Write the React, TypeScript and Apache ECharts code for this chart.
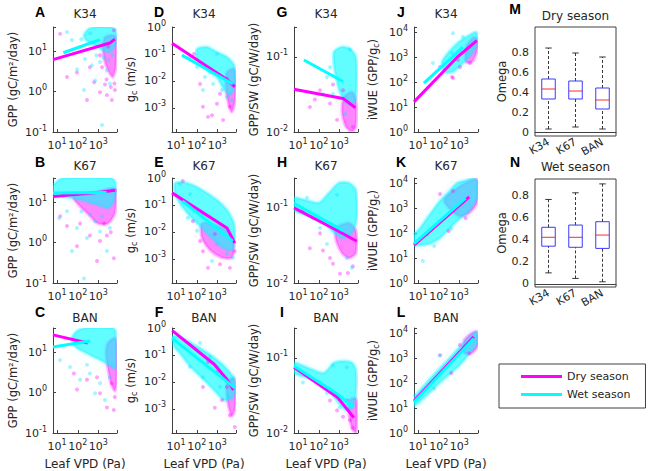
import React, { useEffect, useRef } from 'react';
import * as echarts from 'echarts';

type P = [number, number];

// ---------- Panel A : K34, GPP ----------
const A_dryFit: P[] = [[6.3, 6.2], [3600, 16], [6300, 20]];
const A_wetFit: P[] = [[20, 9.2], [1200, 19.5]];
const A_dryCore: P[] = [[2090, 22.5], [5000, 25.5], [7000, 22.5], [7000, 4], [5000, 2.3], [3250, 3.1], [2090, 5.4], [1670, 11.3]];
const A_wetCore: P[] = [[200, 25], [350, 36], [690, 40], [4050, 40], [7000, 33], [7000, 17], [5000, 11.5], [2900, 9.5], [1340, 11.5], [550, 15], [250, 19]];
const A_wetPts: P[] = [[30, 30], [52, 19], [130, 12.7], [225, 6.4], [490, 4.5], [1200, 5.4], [2600, 3.4], [690, 1.9], [200, 1.1], [3600, 1.6], [1500, 0.15], [92, 3.6], [150, 20], [400, 28], [800, 8], [1800, 7], [3000, 6], [5000, 8]];
const A_dryPts: P[] = [[14, 27], [92, 3.0], [620, 1.7], [1200, 0.97], [2600, 0.82], [4500, 0.62], [280, 0.62], [30, 2.3], [2090, 1.5], [6300, 1.1], [390, 4.0], [5600, 33], [1200, 8], [1500, 4], [2500, 2], [4000, 1.3], [6000, 1.6], [3000, 13]];

// ---------- Panel B : K67, GPP ----------
const B_dryFit: P[] = [[6.3, 14], [1500, 18], [6300, 20]];
const B_wetFit: P[] = [[6.3, 17], [2500, 17.5]];
const B_dryCore: P[] = [[59, 14], [550, 17], [5000, 22.5], [7000, 17], [6300, 5.4], [2900, 3.0], [950, 3.0], [350, 4.9], [115, 8.5]];
const B_wetCore: P[] = [[6.3, 25], [12, 35], [19, 40], [4050, 40], [6300, 33], [7000, 20], [5000, 9.5], [2900, 7.2], [1340, 8.2], [550, 9.5], [180, 11.2], [59, 12.7], [19, 14], [6.3, 14]];
const B_wetPts: P[] = [[12.5, 4.0], [30, 6.0], [92, 2.3], [280, 1.3], [1200, 1.9], [2600, 0.62], [200, 0.13], [690, 3.4], [3600, 2.3], [52, 0.62], [150, 6], [400, 5], [1500, 4.5]];
const B_dryPts: P[] = [[14, 4.5], [130, 3.0], [390, 1.5], [1200, 1.1], [92, 0.82], [2600, 1.5], [5600, 0.41], [860, 0.35], [30, 2.6], [1900, 3.0], [6500, 20], [4000, 1.8]];

// ---------- Panel C : BAN, GPP ----------
const C_dryFit: P[] = [[6.3, 27], [300, 17]];
const C_wetFit: P[] = [[6.3, 13.6], [400, 19]];
const C_dryCore: P[] = [[2900, 17], [6300, 22.5], [7600, 17], [7600, 1.7], [6300, 1.1], [4050, 1.7], [2900, 4.0], [2340, 9.5]];
const C_wetCore: P[] = [[52, 22.5], [92, 33.5], [225, 40], [5000, 40], [6800, 33.5], [6800, 4.0], [4050, 4.5], [1670, 6.0], [550, 7.9], [180, 10.6], [73, 14]];
const C_wetPts: P[] = [[42, 4.3], [130, 2.1], [390, 3.0], [1200, 1.7], [3600, 2.4], [690, 0.97], [2090, 0.66], [14, 6.4], [280, 4.9]];
const C_dryPts: P[] = [[92, 1.2], [280, 2.1], [1200, 0.97], [2600, 0.43], [5600, 0.37], [6300, 0.78], [860, 2.4], [65, 3.0], [4500, 1.7]];

// ---------- Panel D : K34, gc ----------
const D_dryFit: P[] = [[6.3, 0.25], [3000, 0.011], [7000, 0.006]];
const D_wetFit: P[] = [[19, 0.09], [5600, 0.0076]];
const D_dryCore: P[] = [[2900, 0.021], [6300, 0.028], [7600, 0.009], [7000, 0.0016], [5000, 0.0007], [3600, 0.0012], [2600, 0.0059]];
const D_wetCore: P[] = [[103, 0.152], [310, 0.18], [950, 0.118], [2900, 0.077], [6300, 0.039], [7500, 0.014], [6300, 0.005], [4050, 0.003], [2090, 0.005], [950, 0.014], [440, 0.021], [180, 0.039], [103, 0.065]];
const D_wetPts: P[] = [[47, 0.077], [103, 0.033], [250, 0.014], [620, 0.0077], [1670, 0.0046], [2900, 0.0025], [440, 0.021], [950, 0.1], [5000, 0.0019], [200, 0.0046]];
const D_dryPts: P[] = [[73, 0.1], [350, 0.00046], [550, 0.00053], [1900, 0.00035], [950, 0.0014], [200, 0.0011], [4050, 0.0011], [1340, 0.0033], [145, 0.0077], [2900, 0.012]];

// ---------- Panel E : K67, gc ----------
const E_dryFit: P[] = [[6.3, 0.28], [2900, 0.014], [7000, 0.0038]];
const E_wetFit: P[] = [[20, 0.14], [5600, 0.0045]];
const E_dryCore: P[] = [[180, 0.021], [950, 0.017], [4050, 0.0091], [6300, 0.0038], [5000, 0.0011], [1670, 0.0011], [440, 0.0021], [180, 0.0059]];
const E_wetCore: P[] = [[9, 0.65], [33, 0.65], [180, 0.36], [950, 0.152], [2900, 0.065], [6300, 0.021], [7000, 0.0059], [5000, 0.0021], [2090, 0.0025], [690, 0.005], [180, 0.014], [47, 0.039], [15, 0.118], [9, 0.28]];
const E_wetPts: P[] = [[15, 0.6], [47, 0.25], [200, 0.046], [103, 0.011], [950, 0.0035], [2900, 0.0015], [550, 0.00083], [5600, 0.0011], [37, 0.033]];
const E_dryPts: P[] = [[21, 0.77], [65, 0.025], [200, 0.0019], [350, 0.00046], [1340, 0.00063], [4050, 0.00046], [145, 0.0046], [7000, 0.0019], [750, 0.0083]];

// ---------- Panel F : BAN, gc ----------
const F_dryFit: P[] = [[6.5, 0.8], [700, 0.045], [3000, 0.012], [6000, 0.005]];
const F_wetFit: P[] = [[6.3, 0.42], [7000, 0.006]];
const F_dryCore: P[] = [[2900, 0.0091], [6300, 0.014], [7500, 0.0038], [7000, 0.00091], [5000, 0.00054], [3600, 0.0011], [2900, 0.003]];
const F_wetCore: P[] = [[6.3, 0.5], [19, 0.42], [103, 0.21], [550, 0.091], [2090, 0.039], [6300, 0.014], [7500, 0.005], [5000, 0.0025], [2090, 0.0021], [690, 0.005], [180, 0.014], [47, 0.039], [15, 0.118], [8, 0.21]];
const F_wetPts: P[] = [[145, 0.28], [440, 0.084], [47, 0.036], [200, 0.015], [1340, 0.0064], [3250, 0.0028], [950, 0.036], [5000, 0.012]];
const F_dryPts: P[] = [[350, 0.055], [950, 0.023], [2900, 0.0064], [750, 0.0011], [4050, 0.00058], [7000, 0.00021], [1670, 0.0021], [200, 0.0064]];

// ---------- Panel G : K34, GPP/SW ----------
const G_dryFit: P[] = [[6.3, 0.037], [1500, 0.028], [6000, 0.021]];
const G_wetFit: P[] = [[19, 0.091], [1500, 0.047]];
const G_dryCore: P[] = [[1670, 0.029], [4050, 0.034], [6300, 0.027], [6300, 0.0117], [4050, 0.0102], [2090, 0.0117], [1340, 0.0185]];
const G_wetCore: P[] = [[550, 0.117], [1340, 0.136], [3250, 0.128], [6300, 0.10], [7000, 0.054], [6300, 0.029], [4050, 0.023], [2090, 0.025], [1070, 0.034], [690, 0.054], [550, 0.078]];
const G_wetPts: P[] = [[250, 0.054], [490, 0.032], [1900, 0.0175], [350, 0.073], [3250, 0.125], [160, 0.032]];
const G_dryPts: P[] = [[37, 0.0215], [115, 0.036], [350, 0.024], [770, 0.0145], [490, 0.043], [4500, 0.0117], [1500, 0.036], [65, 0.027]];

// ---------- Panel H : K67, GPP/SW ----------
const H_dryFit: P[] = [[6.3, 0.10], [600, 0.052], [7000, 0.036]];
const H_wetFit: P[] = [[6.3, 0.115], [1500, 0.05]];
const H_dryCore: P[] = [[690, 0.054], [2900, 0.063], [6300, 0.050], [6300, 0.025], [2900, 0.0215], [1340, 0.025], [690, 0.037]];
const H_wetCore: P[] = [[6.3, 0.136], [19, 0.128], [103, 0.117], [310, 0.158], [950, 0.215], [2900, 0.215], [6300, 0.174], [7000, 0.073], [4050, 0.047], [1670, 0.040], [550, 0.047], [180, 0.063], [33, 0.078], [6.3, 0.094]];
const H_wetPts: P[] = [[27, 0.136], [115, 0.054], [250, 0.033], [2300, 0.0215], [770, 0.15], [52, 0.073], [4050, 0.016]];
const H_dryPts: P[] = [[37, 0.029], [160, 0.027], [490, 0.018], [1070, 0.0133], [2600, 0.0136], [115, 0.046], [4500, 0.0167], [17, 0.091], [350, 0.0215]];

// ---------- Panel I : BAN, GPP/SW ----------
const I_dryFit: P[] = [[6.3, 0.075], [800, 0.030], [5000, 0.016]];
const I_wetFit: P[] = [[6.3, 0.078], [800, 0.033], [5000, 0.022]];
const I_dryCore: P[] = [[2900, 0.027], [6300, 0.029], [7000, 0.016], [6300, 0.0102], [4050, 0.0117], [2900, 0.0185]];
const I_wetCore: P[] = [[6.3, 0.086], [33, 0.073], [180, 0.063], [550, 0.086], [1670, 0.091], [4050, 0.086], [6300, 0.069], [6300, 0.034], [4050, 0.0215], [2090, 0.0204], [950, 0.025], [310, 0.037], [59, 0.051], [6.3, 0.063]];
const I_wetPts: P[] = [[37, 0.055], [115, 0.047], [250, 0.034], [1070, 0.022], [2300, 0.075], [490, 0.08], [17, 0.047]];
const I_dryPts: P[] = [[770, 0.020], [1500, 0.0165], [3250, 0.0148], [4500, 0.0117], [350, 0.027], [2300, 0.027]];

// ---------- Panel J : K34, iWUE ----------
const J_dryFit: P[] = [[6.3, 16], [800, 1000], [7000, 4500]];
const J_wetFit: P[] = [[19, 90], [1500, 2500]];
const J_dryCore: P[] = [[2090, 2500], [5000, 6300], [7600, 4800], [7000, 1580], [4050, 630], [2090, 630]];
const J_wetCore: P[] = [[145, 630], [310, 1580], [950, 4000], [2900, 7200], [6300, 10000], [7600, 6300], [6300, 2500], [2900, 1000], [950, 400], [440, 250], [180, 250]];
const J_wetPts: P[] = [[52, 575], [440, 1450], [490, 9000], [1500, 6300]];
const J_dryPts: P[] = [[490, 145], [115, 400], [860, 760], [440, 158], [1070, 400], [3250, 575]];

// ---------- Panel K : K67, iWUE ----------
const K_dryFit: P[] = [[6.3, 33], [3000, 2800]];
const K_wetFit: P[] = [[6.3, 38], [2000, 2500]];
const K_dryCore: P[] = [[180, 2000], [950, 7000], [2900, 11500], [6300, 14500], [7600, 12000], [7000, 1580], [2900, 630], [950, 480]];
const K_wetCore: P[] = [[6.3, 80], [12.5, 158], [33, 480], [115, 1900], [310, 4400], [770, 10000], [1670, 12000], [5000, 15000], [7000, 12000], [7000, 2500], [2900, 800], [770, 300], [115, 63], [33, 36], [12.5, 33], [6.3, 33]];
const K_wetPts: P[] = [[17, 7.6], [7, 92], [60, 30], [400, 150]];
const K_dryPts: P[] = [[27, 92], [115, 3600], [490, 4800], [300, 120], [2000, 400]];

// ---------- Panel L : BAN, iWUE ----------
const L_dryFit: P[] = [[6.3, 19], [5000, 7000]];
const L_wetFit: P[] = [[6.3, 17], [5000, 6000]];
const L_dryCore: P[] = [[1670, 4800], [4050, 10000], [7000, 11500], [7600, 7600], [7600, 3000], [4050, 1580], [1670, 1580]];
const L_wetCore: P[] = [[6.3, 25], [33, 130], [200, 630], [950, 2500], [2900, 6300], [6300, 11000], [7600, 9100], [7600, 4400], [4050, 2100], [950, 480], [200, 158], [33, 40], [6.3, 12]];
const L_wetPts: P[] = [[7, 32], [115, 1300], [60, 60]];
const L_dryPts: P[] = [[115, 1300], [1070, 3300], [400, 250], [3000, 1500]];

// ---------- Box plots (min, q1, median, q3, max) ----------
const boxCats = ['K34', 'K67', 'BAN'];
const dryBox = [[0.03, 0.33, 0.43, 0.53, 0.84], [0.05, 0.33, 0.41, 0.51, 0.79], [0.03, 0.23, 0.32, 0.44, 0.75]];
const wetBox = [[0.10, 0.34, 0.42, 0.51, 0.76], [0.05, 0.33, 0.42, 0.53, 0.82], [0.02, 0.32, 0.44, 0.56, 0.90]];
const omegaTicks = [0, 0.2, 0.4, 0.6, 0.8];

const sites = ['K34', 'K67', 'BAN'];
const legendNames = ['Dry season', 'Wet season'];

const FONT = 'DejaVu Sans';
const TXT = '#262626';
const AX = '#404040';
const MAG = '#ff00ff';
const CYA = '#00ffff';

const panels = [
  { letter: 'A', row: 0, col: 0, dc: A_dryCore, wc: A_wetCore, dp: A_dryPts, wp: A_wetPts, df: A_dryFit, wf: A_wetFit },
  { letter: 'B', row: 1, col: 0, dc: B_dryCore, wc: B_wetCore, dp: B_dryPts, wp: B_wetPts, df: B_dryFit, wf: B_wetFit },
  { letter: 'C', row: 2, col: 0, dc: C_dryCore, wc: C_wetCore, dp: C_dryPts, wp: C_wetPts, df: C_dryFit, wf: C_wetFit },
  { letter: 'D', row: 0, col: 1, dc: D_dryCore, wc: D_wetCore, dp: D_dryPts, wp: D_wetPts, df: D_dryFit, wf: D_wetFit },
  { letter: 'E', row: 1, col: 1, dc: E_dryCore, wc: E_wetCore, dp: E_dryPts, wp: E_wetPts, df: E_dryFit, wf: E_wetFit },
  { letter: 'F', row: 2, col: 1, dc: F_dryCore, wc: F_wetCore, dp: F_dryPts, wp: F_wetPts, df: F_dryFit, wf: F_wetFit },
  { letter: 'G', row: 0, col: 2, dc: G_dryCore, wc: G_wetCore, dp: G_dryPts, wp: G_wetPts, df: G_dryFit, wf: G_wetFit },
  { letter: 'H', row: 1, col: 2, dc: H_dryCore, wc: H_wetCore, dp: H_dryPts, wp: H_wetPts, df: H_dryFit, wf: H_wetFit },
  { letter: 'I', row: 2, col: 2, dc: I_dryCore, wc: I_wetCore, dp: I_dryPts, wp: I_wetPts, df: I_dryFit, wf: I_wetFit },
  { letter: 'J', row: 0, col: 3, dc: J_dryCore, wc: J_wetCore, dp: J_dryPts, wp: J_wetPts, df: J_dryFit, wf: J_wetFit },
  { letter: 'K', row: 1, col: 3, dc: K_dryCore, wc: K_wetCore, dp: K_dryPts, wp: K_wetPts, df: K_dryFit, wf: K_wetFit },
  { letter: 'L', row: 2, col: 3, dc: L_dryCore, wc: L_wetCore, dp: L_dryPts, wp: L_wetPts, df: L_dryFit, wf: L_wetFit },
];

const colLeft = [53, 172, 294, 414];
const rowTop = [27, 178, 328];
const PW = 64;
const PH = 105;
const letterX = [40, 159, 282, 401];
const letterY = [12, 162, 312];
const titleY = [14, 166, 318];
const xMin = 6.3;
const xMax = 8000;
const yMin = [0.1, 1.26e-4, 0.01, 1];
const yMax = [40, 1, 0.25, 15850];
const yNames = ['GPP (gC/m²/day)', '{t|g}{sub|c}{t| (m/s)}', 'GPP/SW (gC/W/day)', '{t|iWUE (GPP/g}{sub|c}{t|)}'];

function powLabel(v: number) {
  const l = Math.log10(v);
  const e = Math.round(l);
  if (Math.abs(l - e) > 1e-4) return '';
  return `{b|10}{s|${e}}`;
}
const powRich = {
  b: { fontFamily: FONT, fontSize: 11, color: TXT, lineHeight: 16 },
  s: { fontFamily: FONT, fontSize: 8, color: TXT, lineHeight: 8, verticalAlign: 'top' },
};
const nameStyle = {
  fontFamily: FONT, fontSize: 11.5, color: TXT,
  rich: {
    t: { fontFamily: FONT, fontSize: 11.5, color: TXT, lineHeight: 14 },
    sub: { fontFamily: FONT, fontSize: 8, color: TXT, lineHeight: 6, verticalAlign: 'bottom' },
  },
};

function polySeries(poly: P[], fill: string, glow: string, gi: number) {
  return {
    type: 'custom', xAxisIndex: gi, yAxisIndex: gi, silent: true, clip: true, z: 1,
    data: [poly[0]],
    renderItem: (_p: any, api: any) => ({
      type: 'polygon',
      shape: { points: poly.map((pt) => api.coord(pt)), smooth: 0.25 },
      style: { fill, stroke: glow, lineWidth: 3, lineJoin: 'round', shadowBlur: 6, shadowColor: glow },
    }),
  };
}
function ptsSeries(pts: P[], color: string, gi: number) {
  return {
    type: 'scatter', xAxisIndex: gi, yAxisIndex: gi, silent: true, z: 2,
    symbolSize: 4, itemStyle: { color }, data: pts,
  };
}
function fitSeries(fit: P[], color: string, gi: number, name: string) {
  return {
    type: 'line', name, xAxisIndex: gi, yAxisIndex: gi, silent: true, z: 4,
    color, symbol: 'none', showSymbol: false, data: fit,
    lineStyle: { color, width: 3 },
  };
}

function buildOption() {
  const grid: any[] = [];
  const xAxis: any[] = [];
  const yAxis: any[] = [];
  const series: any[] = [];
  const graphic: any[] = [];

  panels.forEach((p, gi) => {
    grid.push({ left: colLeft[p.col], top: rowTop[p.row], width: PW, height: PH });
    xAxis.push({
      type: 'log', logBase: 10, gridIndex: gi, min: xMin, max: xMax,
      axisLine: { lineStyle: { color: AX, width: 1 } },
      axisTick: { inside: true, length: 3, lineStyle: { color: AX } },
      axisLabel: { formatter: powLabel, rich: powRich, margin: 5 },
      splitLine: { show: false },
      name: p.row === 2 ? 'Leaf VPD (Pa)' : '',
      nameLocation: 'middle', nameGap: 25,
      nameTextStyle: { fontFamily: FONT, fontSize: 12, color: TXT },
    });
    yAxis.push({
      type: 'log', logBase: 10, gridIndex: gi, min: yMin[p.col], max: yMax[p.col],
      axisLine: { lineStyle: { color: AX, width: 1 } },
      axisTick: { inside: true, length: 3, lineStyle: { color: AX } },
      axisLabel: { formatter: powLabel, rich: powRich, margin: 6 },
      splitLine: { show: false },
      name: yNames[p.col], nameLocation: 'middle', nameGap: 34,
      nameTextStyle: nameStyle,
    });
    series.push(polySeries(p.dc, 'rgba(255,0,255,0.42)', 'rgba(255,0,255,0.25)', gi));
    series.push(ptsSeries(p.dp, 'rgba(255,0,255,0.45)', gi));
    series.push(polySeries(p.wc, 'rgba(0,255,255,0.55)', 'rgba(0,240,255,0.3)', gi));
    series.push(ptsSeries(p.wp, 'rgba(0,230,255,0.45)', gi));
    series.push(fitSeries(p.df, MAG, gi, legendNames[0]));
    series.push(fitSeries(p.wf, CYA, gi, legendNames[1]));

    graphic.push({
      type: 'text', x: letterX[p.col], y: letterY[p.row],
      style: { text: p.letter, font: 'bold 14px "Liberation Sans"', fill: '#000', align: 'center', verticalAlign: 'middle' },
    });
    graphic.push({
      type: 'text', x: colLeft[p.col] + PW / 2, y: titleY[p.row],
      style: { text: sites[p.row], font: `12px "${FONT}"`, fill: TXT, align: 'center', verticalAlign: 'middle' },
    });
  });

  const boxDefs = [
    { data: dryBox, top: 27, height: 109, min: -0.04, max: 1.05, title: 'Dry season', titleY: 16, letter: 'M', ly: 9 },
    { data: wetBox, top: 179, height: 108, min: -0.027, max: 0.944, title: 'Wet season', titleY: 167, letter: 'N', ly: 162 },
  ];
  boxDefs.forEach((b, k) => {
    const gi = panels.length + k;
    grid.push({ left: 535, top: b.top, width: 81, height: b.height, show: true, borderColor: AX, borderWidth: 1, backgroundColor: 'transparent' });
    xAxis.push({
      type: 'category', gridIndex: gi, data: boxCats,
      axisLine: { lineStyle: { color: AX } },
      axisTick: { inside: true, alignWithLabel: true, length: 3, lineStyle: { color: AX } },
      axisLabel: { interval: 0, rotate: 30, fontFamily: FONT, fontSize: 11, color: TXT, margin: 5 },
    });
    yAxis.push({
      type: 'value', gridIndex: gi, min: b.min, max: b.max,
      axisLine: { lineStyle: { color: AX } },
      axisTick: { inside: true, length: 3, customValues: omegaTicks, lineStyle: { color: AX } },
      axisLabel: {
        customValues: omegaTicks, fontFamily: FONT, fontSize: 11, color: TXT, margin: 6,
        formatter: (v: number) => (Math.abs(v) < 1e-9 ? '0' : v.toFixed(1)),
      },
      splitLine: { show: false },
      name: 'Omega', nameLocation: 'middle', nameGap: 27,
      nameTextStyle: { fontFamily: FONT, fontSize: 11.5, color: TXT },
    });
    series.push({
      type: 'custom', xAxisIndex: gi, yAxisIndex: gi, silent: true, z: 3,
      data: b.data.map((r, i) => [i, ...r]),
      encode: { x: 0, y: [1, 2, 3, 4, 5] },
      renderItem: (_p: any, api: any) => {
        const i = api.value(0);
        const lo = api.coord([i, api.value(1)]);
        const q1 = api.coord([i, api.value(2)]);
        const md = api.coord([i, api.value(3)]);
        const q3 = api.coord([i, api.value(4)]);
        const hi = api.coord([i, api.value(5)]);
        const band = api.size([1, 0])[0];
        const hw = band * 0.25;
        const cw = band * 0.12;
        const x = lo[0];
        const wk = { stroke: '#222', lineWidth: 0.9, lineDash: [3, 2] };
        const cap = { stroke: '#222', lineWidth: 0.9 };
        return {
          type: 'group',
          children: [
            { type: 'line', shape: { x1: x, y1: q3[1], x2: x, y2: hi[1] }, style: wk },
            { type: 'line', shape: { x1: x, y1: lo[1], x2: x, y2: q1[1] }, style: wk },
            { type: 'line', shape: { x1: x - cw, y1: hi[1], x2: x + cw, y2: hi[1] }, style: cap },
            { type: 'line', shape: { x1: x - cw, y1: lo[1], x2: x + cw, y2: lo[1] }, style: cap },
            { type: 'rect', shape: { x: x - hw, y: q3[1], width: 2 * hw, height: q1[1] - q3[1] }, style: { fill: 'none', stroke: '#3a3aff', lineWidth: 1 } },
            { type: 'line', shape: { x1: x - hw, y1: md[1], x2: x + hw, y2: md[1] }, style: { stroke: '#ff2a2a', lineWidth: 1 } },
          ],
        };
      },
    });
    graphic.push({
      type: 'text', x: 575.5, y: b.titleY,
      style: { text: b.title, font: `12px "${FONT}"`, fill: TXT, align: 'center', verticalAlign: 'middle' },
    });
    graphic.push({
      type: 'text', x: 515, y: b.ly,
      style: { text: b.letter, font: 'bold 14px "Liberation Sans"', fill: '#000', align: 'center', verticalAlign: 'middle' },
    });
  });

  return {
    animation: false,
    backgroundColor: '#ffffff',
    textStyle: { fontFamily: FONT },
    grid, xAxis, yAxis, series, graphic,
    legend: {
      data: legendNames, left: 499, top: 364, orient: 'vertical',
      icon: 'rect', itemWidth: 41, itemHeight: 3, itemGap: 7,
      padding: [7, 15, 8, 22], borderColor: AX, borderWidth: 1,
      selectedMode: false,
      textStyle: { fontFamily: FONT, fontSize: 11, color: TXT },
    },
  };
}

export default function App() {
  const ref = useRef<HTMLDivElement>(null);
  useEffect(() => {
    if (!ref.current) return;
    const chart = echarts.init(ref.current, null, { renderer: 'svg' });
    chart.setOption(buildOption() as any);
    return () => chart.dispose();
  }, []);
  return (
    <div
      ref={ref}
      style={{ position: 'absolute', left: 0, top: 0, width: 649, height: 471, background: '#fff' }}
    />
  );
}
